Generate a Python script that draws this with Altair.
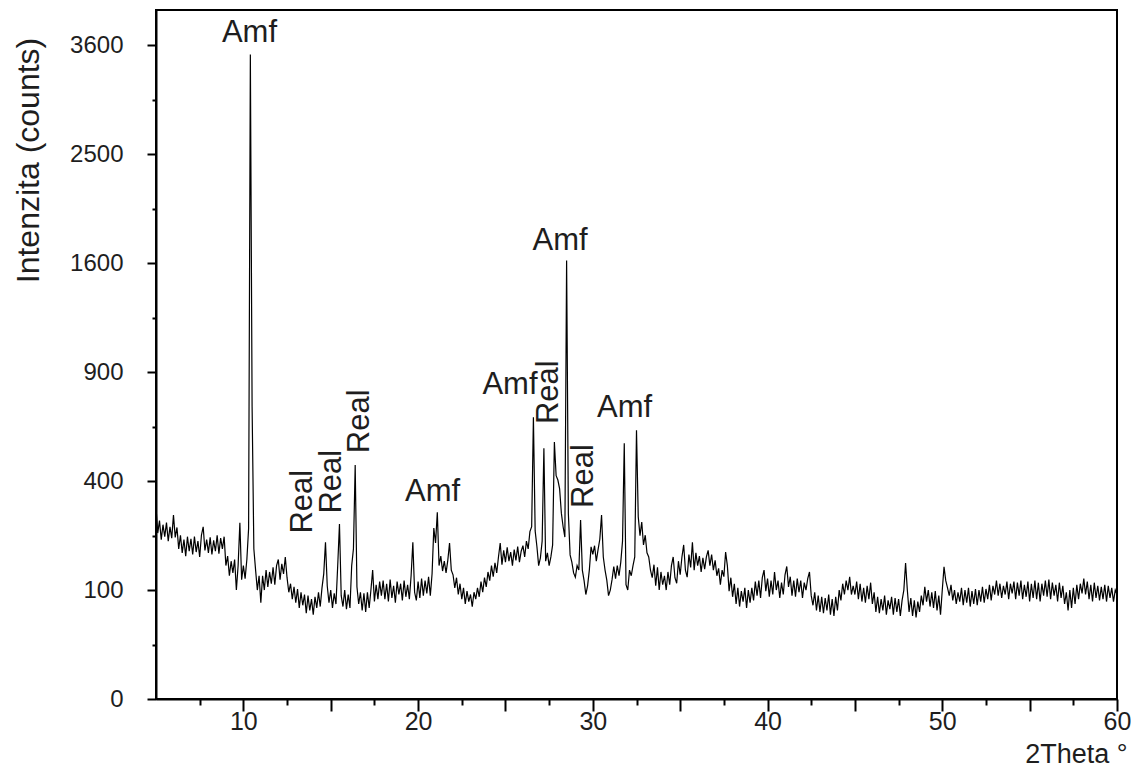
import altair as alt
import pandas as pd

# ---------------- data ----------------
THETA_START = 5.0   # 2theta of first sample
THETA_STEP = 0.1    # scan step (degrees)

counts_05_15 = [
    310, 232, 268, 214, 256, 222, 262, 210, 250, 218,
    285, 220, 248, 190, 226, 180, 214, 172, 222, 184,
    216, 176, 222, 182, 210, 170, 226, 250, 186, 214,
    180, 220, 176, 212, 184, 226, 178, 218, 190, 222,
    150, 172, 128, 160, 134, 164, 100, 150, 262, 120,
    150, 122, 164, 245, 3500, 720, 190, 140, 100, 128,
    78, 128, 100, 140, 106, 136, 112, 146, 110, 150,
    164, 120, 154, 132, 170, 124, 96, 112, 84, 106,
    78, 102, 70, 96, 74, 92, 62, 90, 66, 84,
    60, 88, 70, 96, 72, 104, 132, 207, 108, 78,
]
counts_15_25 = [
    100, 70, 94, 76, 150, 258, 90, 72, 100, 68,
    92, 70, 150, 190, 461, 106, 76, 96, 66, 94,
    64, 96, 70, 100, 140, 80, 110, 84, 116, 90,
    118, 84, 112, 80, 120, 86, 108, 78, 116, 92,
    112, 82, 118, 88, 110, 84, 128, 207, 96, 82,
    116, 86, 122, 90, 118, 94, 126, 90, 132, 246,
    205, 294, 150, 172, 138, 160, 134, 162, 205, 140,
    130, 104, 124, 92, 112, 84, 104, 76, 98, 80,
    92, 72, 96, 84, 104, 88, 116, 96, 124, 106,
    136, 118, 150, 126, 156, 134, 170, 205, 152, 186,
]
counts_25_35 = [
    158, 194, 160, 182, 150, 188, 162, 196, 158, 184,
    198, 170, 210, 190, 236, 250, 669, 238, 196, 150,
    168, 210, 530, 160, 180, 150, 170, 200, 556, 420,
    404, 372, 291, 250, 221, 1620, 290, 175, 158, 134,
    125, 150, 140, 270, 140, 118, 92, 108, 140, 195,
    176, 198, 160, 188, 215, 285, 170, 140, 119, 90,
    100, 120, 148, 122, 150, 128, 158, 210, 551, 110,
    100, 140, 128, 150, 170, 609, 280, 225, 264, 200,
    226, 180, 170, 140, 124, 152, 108, 146, 100, 136,
    110, 128, 100, 136, 110, 150, 170, 124, 113, 160,
]
counts_35_45 = [
    130, 170, 200, 140, 125, 176, 146, 207, 140, 180,
    150, 172, 136, 168, 142, 170, 186, 150, 176, 140,
    162, 128, 144, 110, 140, 126, 182, 150, 98, 124,
    88, 112, 76, 104, 72, 98, 80, 104, 70, 100,
    78, 104, 82, 116, 90, 118, 86, 124, 140, 98,
    122, 88, 118, 92, 136, 100, 118, 86, 114, 92,
    130, 148, 106, 126, 90, 118, 88, 122, 96, 118,
    86, 114, 100, 122, 136, 90, 74, 96, 66, 90,
    64, 88, 62, 86, 66, 92, 60, 84, 58, 88,
    66, 100, 82, 112, 92, 118, 100, 126, 92, 108,
]
counts_45_60 = [
    92, 116, 84, 112, 80, 104, 78, 108, 84, 114,
    76, 96, 64, 88, 62, 84, 66, 90, 60, 82,
    68, 88, 60, 86, 64, 84, 58, 82, 100, 156,
    100, 64, 86, 58, 82, 56, 80, 64, 90, 74,
    106, 80, 100, 72, 96, 70, 98, 66, 90, 60,
    100, 147, 118, 104, 90, 110, 82, 100, 76, 96,
    80, 104, 74, 100, 78, 104, 72, 98, 76, 102,
    74, 100, 80, 106, 78, 102, 84, 110, 82, 108,
    92, 118, 90, 112, 86, 108, 92, 116, 84, 112,
    94, 116, 84, 114, 90, 118, 84, 110, 88, 116,
    80, 112, 86, 118, 84, 114, 80, 112, 90, 118,
    88, 120, 84, 114, 90, 110, 80, 114, 86, 108,
    76, 96, 66, 100, 70, 104, 76, 110, 84, 112,
    94, 122, 92, 116, 84, 110, 80, 114, 86, 108,
    82, 106, 84, 110, 80, 108, 86, 104, 80, 100, 92,
]

# peak annotations
label_text = ["Amf", "Real", "Real", "Real", "Amf", "Amf", "Real", "Amf", "Real", "Amf"]
label_theta = [10.35, 13.44, 15.05, 16.68, 20.83, 25.26, 27.47, 28.13, 29.47, 31.82]
label_counts = [3733, 328, 398, 650, 362, 830, 793, 1766, 419, 713]
label_vertical = [False, True, True, True, False, False, True, False, True, False]

# axis ticks
y_major = [0, 100, 400, 900, 1600, 2500, 3600]
y_minor = [25, 225, 625, 1225, 2025, 3025]
x_major = [10, 15, 20, 25, 30, 35, 40, 45, 50, 55, 60]
x_minor = [7.5, 12.5, 17.5, 22.5, 27.5, 32.5, 37.5, 42.5, 47.5, 52.5, 57.5]

# ---------------- build tables ----------------
counts = counts_05_15 + counts_15_25 + counts_25_35 + counts_35_45 + counts_45_60
theta = [round(THETA_START + i * THETA_STEP, 2) for i in range(len(counts))]
scan = pd.DataFrame({"theta": theta, "counts": counts})
labels = pd.DataFrame({
    "text": label_text,
    "theta": label_theta,
    "counts": label_counts,
    "vertical": label_vertical,
})

SANS = "Liberation Sans, Arial, sans-serif"
TXT = "#1e1e1e"

xscale = alt.Scale(domain=[5, 60], nice=False, zero=False)
yscale = alt.Scale(type="sqrt", domain=[0, 4000], nice=False)

x_main_axis = alt.Axis(
    values=x_major,
    labelExpr="datum.value % 10 === 0 ? datum.label : ''",
    tickSize=12, tickWidth=2, tickColor="black",
    domain=True, domainColor="black", domainWidth=2,
    grid=False,
    labelFont=SANS, labelFontSize=25, labelColor=TXT, labelPadding=-2,
    labelFlush=False, labelOverlap=False,
    title="2Theta °", titleFont=SANS, titleFontSize=27, titleFontWeight="normal",
    titleColor=TXT, titleAlign="right", titleBaseline="middle",
    titleX=971, titleY=55, titleAngle=0,
    orient="bottom",
)
y_main_axis = alt.Axis(
    values=y_major, format="d",
    tickSize=9, tickWidth=2, tickColor="black",
    domain=True, domainColor="black", domainWidth=2,
    grid=False,
    labelFont=SANS, labelFontSize=24, labelColor=TXT, labelPadding=24,
    labelFlush=False, labelOverlap=False,
    title="Intenzita (counts)", titleFont=SANS, titleFontSize=32,
    titleFontWeight="normal", titleColor=TXT,
    titleAngle=270, titleAlign="center", titleBaseline="middle",
    titleX=-128, titleY=150,
    orient="left",
)
x_minor_axis = alt.Axis(
    values=x_minor, labels=False, domain=False, grid=False,
    tickSize=6, tickWidth=2, tickColor="black", title=None, orient="bottom",
)
y_minor_axis = alt.Axis(
    values=y_minor, labels=False, domain=False, grid=False,
    tickSize=4, tickWidth=2, tickColor="black", title=None, orient="left",
)

line = alt.Chart(scan).mark_line(color="black", strokeWidth=1.2).encode(
    x=alt.X("theta:Q", scale=xscale, axis=x_main_axis),
    y=alt.Y("counts:Q", scale=yscale, axis=y_main_axis),
)

text_h = alt.Chart(labels).transform_filter("!datum.vertical").mark_text(
    font=SANS, fontSize=31, color=TXT, align="center", baseline="middle"
).encode(
    x=alt.X("theta:Q", scale=xscale, axis=x_minor_axis),
    y=alt.Y("counts:Q", scale=yscale, axis=y_minor_axis),
    text="text:N",
)

text_v = alt.Chart(labels).transform_filter("datum.vertical").mark_text(
    font=SANS, fontSize=31, color=TXT, align="center", baseline="middle", angle=270
).encode(
    x=alt.X("theta:Q", scale=xscale, axis=None),
    y=alt.Y("counts:Q", scale=yscale, axis=None),
    text="text:N",
)

chart = (
    alt.layer(line, text_h, text_v)
    .resolve_scale(x="shared", y="shared")
    .resolve_axis(x="independent", y="independent")
    .properties(
        width=961,
        height=689,
        autosize=alt.AutoSizeParams(type="none"),
        padding={"left": 148, "top": 2, "right": 14, "bottom": 70},
        background="white",
    )
    .configure_view(stroke="black", strokeWidth=2)
)

chart.save("out.html", embed_options={"renderer": "svg", "actions": False})
